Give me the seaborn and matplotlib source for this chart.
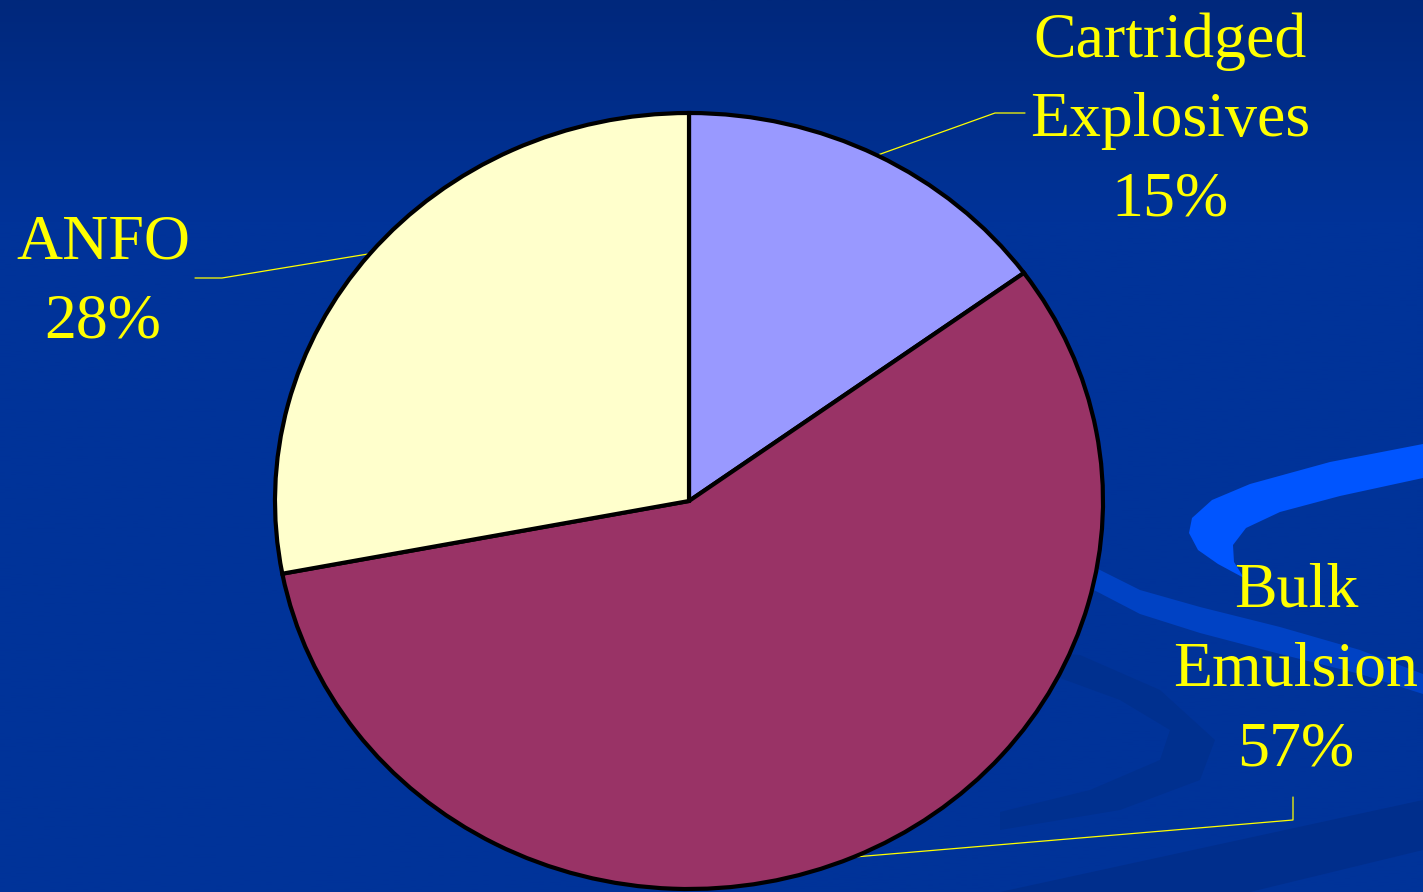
import numpy as np
import matplotlib.pyplot as plt
from matplotlib.patches import Polygon
import seaborn as sns

# data
labels = ['Cartridged\nExplosives', 'Bulk\nEmulsion', 'ANFO']
shares = [15, 57, 28]
slice_colors = ['#9999FF', '#993366', '#FFFFCC']

sns.set_theme(style='white')
plt.rcParams['font.family'] = ['Liberation Serif', 'DejaVu Serif']

W, H = 1423, 892
fig = plt.figure(figsize=(14.23, 8.92), dpi=100)

# slide background (pixel coords, y down)
bg = fig.add_axes([0, 0, 1, 1])
bg.set_xlim(0, W)
bg.set_ylim(H, 0)
bg.axis('off')
grad = np.clip(np.linspace(0, H, 400) / 220.0, 0, 1)[:, None]
cmap = sns.blend_palette(['#00287C', '#003399'], as_cmap=True)
bg.imshow(grad, extent=[0, W, H, 0], cmap=cmap, aspect='auto', zorder=0)

# decorative swooshes
swooshes = [
    ('#002E8C', [(1000, 892), (1423, 800), (1423, 850), (1250, 892)]),
    ('#00308F', [(1000, 650), (1080, 655), (1160, 690), (1215, 740), (1200, 780),
                 (1120, 810), (1000, 830), (1000, 812), (1090, 790), (1160, 760),
                 (1170, 730), (1120, 700), (1060, 678), (1000, 668)]),
    ('#0042C4', [(1090, 565), (1140, 590), (1200, 607), (1280, 627), (1360, 650),
                 (1423, 674), (1423, 694), (1360, 674), (1280, 654), (1200, 633),
                 (1140, 614), (1090, 588)]),
    ('#0055FF', [(1423, 444), (1330, 462), (1250, 484), (1212, 500), (1192, 518),
                 (1189, 533), (1198, 550), (1218, 564), (1244, 578), (1234, 562),
                 (1233, 545), (1246, 528), (1280, 512), (1340, 496), (1423, 478)]),
]
for col, pts in swooshes:
    bg.add_patch(Polygon(pts, closed=True, facecolor=col, edgecolor='none', zorder=1))

# pie (slightly squashed ellipse as on the slide)
cx, cy, rx, ry = 689, 501, 414, 388
ax = fig.add_axes([(cx - rx) / W, (H - cy - ry) / H, 2 * rx / W, 2 * ry / H])
wedges, _ = ax.pie(shares, colors=slice_colors, startangle=90, counterclock=False,
                   wedgeprops=dict(edgecolor='black', linewidth=3))
ax.set_aspect('auto')
ax.set_xlim(-1, 1)
ax.set_ylim(-1, 1)
ax.axis('off')
for w in wedges:
    w.set_clip_on(False)

# labels with leader lines
label_pos = [  # elbow, end, text centre
    ((995, 113), (1025, 113), (1170, 121)),
    ((1293, 820), (1293, 797), (1296, 671)),
    ((222, 278), (195, 278), (103, 283)),
]
for w, lab, share, (elbow, end, tpos) in zip(wedges, labels, shares, label_pos):
    mid = np.deg2rad((w.theta1 + w.theta2) / 2)
    anchor = (cx + rx * np.cos(mid), cy - ry * np.sin(mid))
    xs = [anchor[0], elbow[0], end[0]]
    ys = [anchor[1], elbow[1], end[1]]
    bg.plot(xs, ys, color='#FFFF00', lw=0.9, zorder=5)
    fig.text(tpos[0] / W, 1 - tpos[1] / H, f'{lab}\n{share}%', ha='center', va='center',
             color='#FFFF00', fontsize=46, linespacing=1.48)

fig.savefig('out.png', dpi=100)
